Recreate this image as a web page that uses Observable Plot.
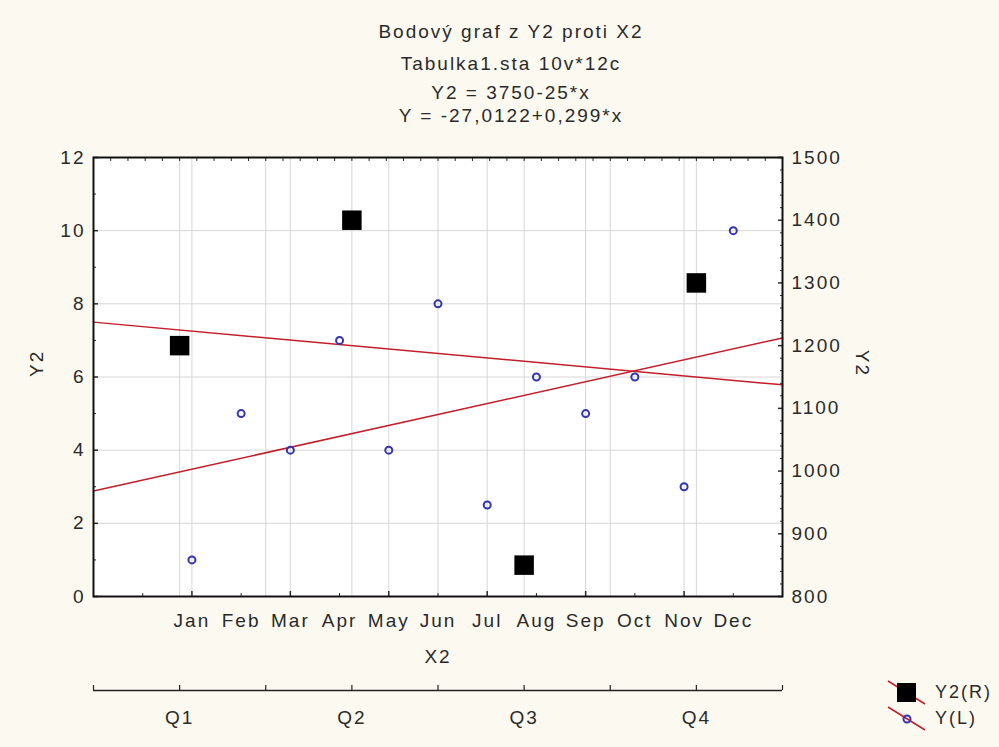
<!DOCTYPE html>
<html>
<head>
<meta charset="utf-8">
<script src="https://cdn.jsdelivr.net/npm/d3@7"></script>
<script src="https://cdn.jsdelivr.net/npm/@observablehq/plot@0.6"></script>
<style>
html, body { margin: 0; padding: 0; background: #fcfaf0; }
#root { position: relative; width: 999px; height: 747px; background: #fcfaf0; overflow: hidden;
  font-family: "Liberation Sans", Arial, sans-serif; color: #2a2a2a; }
.t { position: absolute; left: 261px; width: 500px; text-align: center; font-size: 19px;
  line-height: 19px; letter-spacing: 2px; white-space: nowrap; }
#main { position: absolute; left: 0; top: 140px; }
#qaxis { position: absolute; left: 0; top: 680px; }
#legend { position: absolute; left: 880px; top: 676px; }
#root svg text { letter-spacing: 2px; }
</style>
</head>
<body>
<div id="root">
  <div id="titles"></div>
  <div id="main"></div>
  <div id="qaxis"></div>
  <div id="legend"></div>
</div>
<script>
// ---- data ----
const titleLines = ["Bodový graf z Y2 proti X2", "Tabulka1.sta 10v*12c", "Y2 = 3750-25*x", "Y = -27,0122+0,299*x"];
const months = ["Jan","Feb","Mar","Apr","May","Jun","Jul","Aug","Sep","Oct","Nov","Dec"];
const monthX = [102,103,104,105,106,107,108,109,110,111,112,113];
const yLeft = [1,5,4,7,4,8,2.5,6,5,6,3,10];          // Y (L), circles
const quarters = ["Q1","Q2","Q3","Q4"];
const quarterX = [101.75,105.25,108.75,112.25];
const quarterEdges = [100,103.5,107,110.5,114];
const y2Right = [1200,1400,850,1300];                 // Y2 (R), squares
const xDomain = [100,114];
const leftDomain = [0,12];
const rightDomain = [800,1500];
const leftTicks = [0,2,4,6,8,10,12];
const rightTicks = [800,900,1000,1100,1200,1300,1400,1500];
const legendItems = ["Y2(R)", "Y(L)"];

// ---- helpers ----
const toLeft = v => leftDomain[0] + (v - rightDomain[0]) / (rightDomain[1] - rightDomain[0]) * (leftDomain[1] - leftDomain[0]);
const fromLeft = v => rightDomain[0] + (v - leftDomain[0]) / (leftDomain[1] - leftDomain[0]) * (rightDomain[1] - rightDomain[0]);
function fit(xs, ys) {
  const mx = d3.mean(xs), my = d3.mean(ys);
  const sxy = d3.sum(xs, (x, i) => (x - mx) * (ys[i] - my));
  const sxx = d3.sum(xs, x => (x - mx) ** 2);
  const b = sxy / sxx, a = my - b * mx;
  return x => a + b * x;
}
const fL = fit(monthX, yLeft);
const fR = fit(quarterX, y2Right);
const lineL = xDomain.map(x => ({x, y: fL(x)}));
const lineR = xDomain.map(x => ({x, y: toLeft(fR(x))}));
const pointsL = monthX.map((x, i) => ({x, y: yLeft[i]}));
const pointsR = quarterX.map((x, i) => ({x, y: toLeft(y2Right[i])}));

const evenX = d3.range(xDomain[0] + 2, xDomain[1], 2);
const gridXVals = [...evenX, ...quarterX, ...quarterEdges.slice(1, -1)];
const bottomAll = d3.range(xDomain[0], xDomain[1] + 0.001, 1);
const bottomMinor = bottomAll.filter(d => d % 2 !== 0);
const topTicks = d3.range(0, 41).map(i => xDomain[0] + i * (xDomain[1] - xDomain[0]) / 40);
const leftMinor = d3.range(1, 12, 2);
const rightMinor = d3.range(800, 1501, 20).filter(d => d % 100 !== 0).map(toLeft);

// ---- titles ----
const baselines = [38, 70, 99, 122];
const tdiv = document.getElementById("titles");
titleLines.forEach((s, i) => {
  const d = document.createElement("div");
  d.className = "t";
  d.style.top = (baselines[i] - 16) + "px";
  d.textContent = s;
  tdiv.appendChild(d);
});

const font = {fontFamily: "'Liberation Sans', Arial, sans-serif", fontSize: "19px", color: "#2a2a2a", background: "transparent", overflow: "visible"};
const red = "#c41e2a";
const grid = "#d6d6d6";

const main = Plot.plot({
  width: 999, height: 540,
  marginTop: 17, marginBottom: 84, marginLeft: 93, marginRight: 217,
  x: {domain: xDomain, label: null},
  y: {domain: leftDomain, label: null},
  style: font,
  marks: [
    Plot.frame({fill: "white", stroke: "none"}),
    Plot.gridX(gridXVals, {stroke: grid, strokeOpacity: 1}),
    Plot.gridY(leftTicks.slice(1, -1), {stroke: grid, strokeOpacity: 1}),
    Plot.line(lineL, {x: "x", y: "y", stroke: red, strokeWidth: 1.5}),
    Plot.line(lineR, {x: "x", y: "y", stroke: red, strokeWidth: 1.5}),
    Plot.dot(pointsL, {x: "x", y: "y", r: 3.5, stroke: "#3434b0", strokeWidth: 2, fill: "none"}),
    Plot.dot(pointsR, {x: "x", y: "y", symbol: "square", r: 11, fill: "black", stroke: "none"}),
    // inner ticks on the frame
    Plot.axisX({anchor: "bottom", ticks: evenX, tickSize: -5, tickFormat: () => "", strokeWidth: 1.5}),
    Plot.axisX({anchor: "bottom", ticks: bottomMinor, tickSize: -3, tickFormat: () => ""}),
    Plot.axisX({anchor: "top", ticks: topTicks, tickSize: -3, tickFormat: () => ""}),
    Plot.axisY({anchor: "left", ticks: leftTicks, tickSize: -5, tickFormat: () => "", strokeWidth: 1.5}),
    Plot.axisY({anchor: "left", ticks: leftMinor, tickSize: -3, tickFormat: () => ""}),
    Plot.axisY({anchor: "right", ticks: rightTicks.map(toLeft), tickSize: -5, tickFormat: () => "", strokeWidth: 1.5}),
    Plot.axisY({anchor: "right", ticks: rightMinor, tickSize: -3, tickFormat: () => ""}),
    Plot.frame({stroke: "#111", strokeWidth: 2}),
    // labels
    Plot.axisX({anchor: "bottom", ticks: monthX, tickFormat: d => months[monthX.indexOf(d)], tickSize: 0, tickPadding: 17}),
    Plot.axisY({anchor: "left", ticks: leftTicks, tickFormat: d => String(d), tickSize: 0, tickPadding: 8}),
    Plot.axisY({anchor: "right", ticks: rightTicks.map(toLeft), tickFormat: d => String(Math.round(fromLeft(d))), tickSize: 0, tickPadding: 9}),
    Plot.text(["X2"], {frameAnchor: "bottom", dy: 66}),
    Plot.text(["Y2"], {frameAnchor: "left", rotate: -90, dx: -57}),
    Plot.text(["Y2"], {frameAnchor: "right", rotate: 90, dx: 80})
  ]
});
document.getElementById("main").appendChild(main);

const qTickVals = [...quarterEdges, ...quarterX];
const qaxis = Plot.plot({
  width: 999, height: 67,
  marginTop: 5, marginBottom: 57, marginLeft: 93, marginRight: 217,
  x: {domain: xDomain, label: null},
  y: {domain: [0, 1], axis: null},
  style: font,
  marks: [
    Plot.ruleY([0], {stroke: "#222", strokeWidth: 1.5}),
    Plot.tickX(qTickVals, {stroke: "#222", strokeWidth: 1.2}),
    Plot.axisX({anchor: "bottom", ticks: quarterX, tickFormat: d => quarters[quarterX.indexOf(d)], tickSize: 0, tickPadding: 20})
  ]
});
document.getElementById("qaxis").appendChild(qaxis);

// ---- legend ----
const ns = "http://www.w3.org/2000/svg";
const lsvg = document.createElementNS(ns, "svg");
lsvg.setAttribute("width", 119); lsvg.setAttribute("height", 71);
function el(tag, attrs, parent) {
  const e = document.createElementNS(ns, tag);
  for (const k in attrs) e.setAttribute(k, attrs[k]);
  parent.appendChild(e); return e;
}
const rows = [16, 42];
legendItems.forEach((name, i) => {
  const cy = rows[i];
  el("line", {x1: 8, y1: cy - 11, x2: 45, y2: cy + 12, stroke: red, "stroke-width": 1.5}, lsvg);
  if (i === 0) el("rect", {x: 17, y: cy - 9, width: 19, height: 19, fill: "black"}, lsvg);
  else el("circle", {cx: 27, cy: cy + 1, r: 3.5, fill: "none", stroke: "#3434b0", "stroke-width": 2}, lsvg);
  const t = el("text", {x: 55, y: cy, "dominant-baseline": "central", "font-size": 18, fill: "#2a2a2a",
    "font-family": "'Liberation Sans', Arial, sans-serif"}, lsvg);
  t.textContent = name;
});
document.getElementById("legend").appendChild(lsvg);
</script>
</body>
</html>
